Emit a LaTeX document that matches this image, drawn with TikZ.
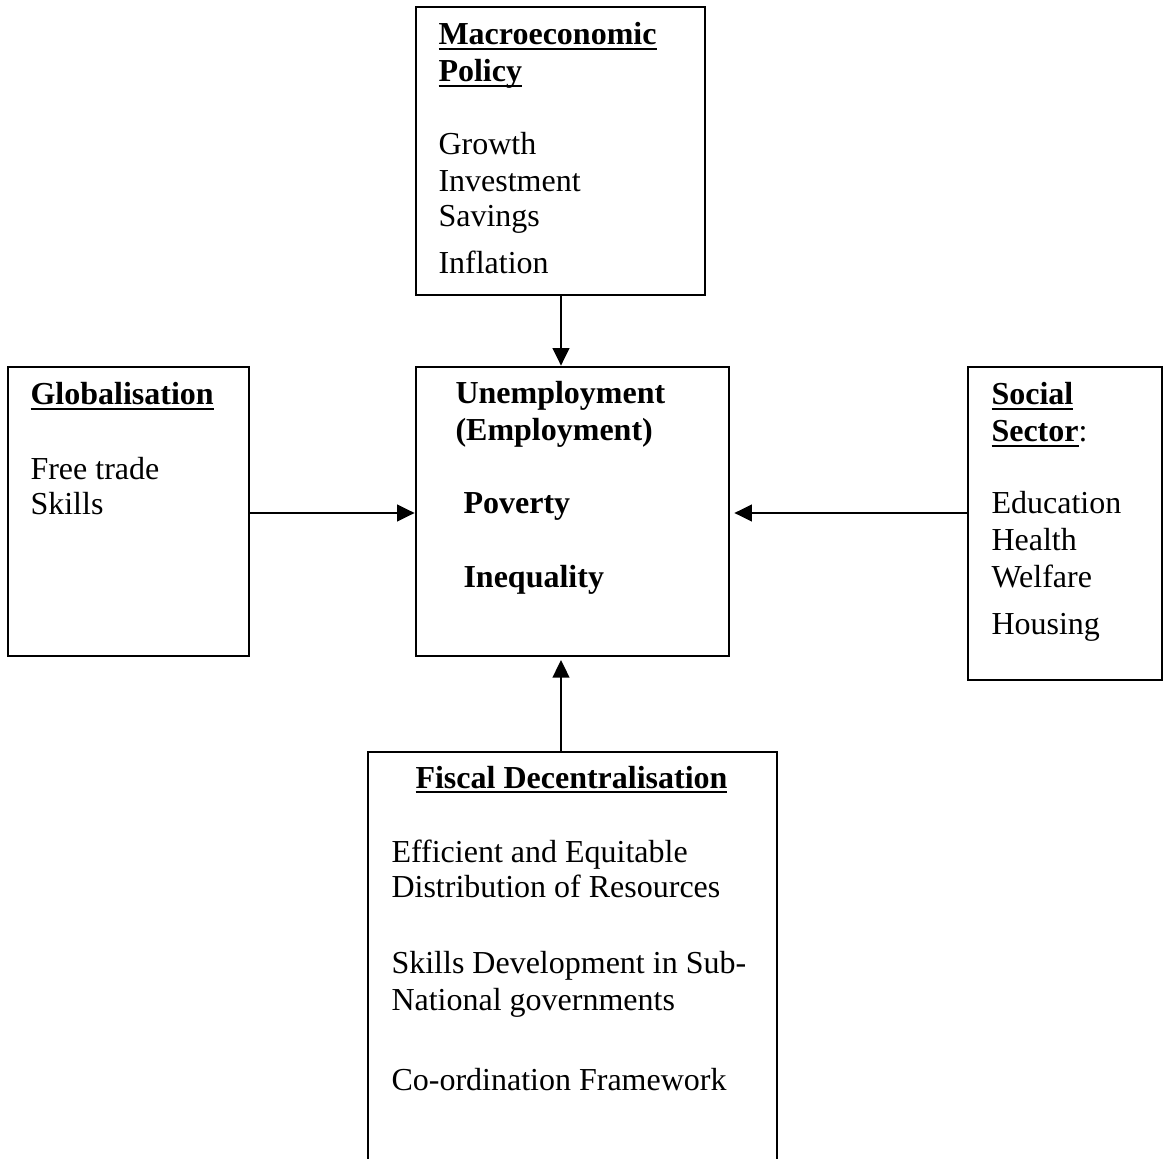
\documentclass[tikz,border=0pt]{standalone}
\usepackage{fontspec}
\setmainfont{Liberation Serif}
\usetikzlibrary{fit,arrows.meta}
\newsavebox\hdrbox
\newcommand\hdr[1]{\sbox\hdrbox{\bfseries #1}\rlap{\rule[-1.9pt]{\wd\hdrbox}{0.8pt}}\usebox\hdrbox}
\begin{document}
\begin{tikzpicture}[x=0.375pt,y=-0.375pt,
  box/.style={draw,line width=1pt,inner sep=0pt},
  txt/.style={anchor=base west,inner sep=0pt,font=\fontsize{12}{14}\selectfont},
  btxt/.style={txt,font=\fontsize{12}{14}\selectfont\bfseries},
  arr/.style={line width=1pt,-{Triangle[length=6.6pt,width=6.2pt]}}]
\useasboundingbox (0,0) rectangle (1163,1159);
\fill[white] (0,0) rectangle (1163,1159);

% boxes
\node[box,fit={(416,7)(705,295)}] (macro) {};
\node[box,fit={(416,367)(729,656)}] (center) {};
\node[box,fit={(8,367)(249,656)}] (glob) {};
\node[box,fit={(968,367)(1162,680)}] (social) {};
\node[box,fit={(368,752)(777,1180)}] (fiscal) {};

% macro text
\node[txt] (m1) at (438,45) {\hdr{Macroeconomic}};
\node[txt] (m2) at (438,82) {\hdr{Policy}};
\node[txt] (m3) at (438,155) {Growth};
\node[txt] (m4) at (438,192) {Investment};
\node[txt] (m5) at (438,227) {Savings};
\node[txt] (m6) at (438,274) {Inflation};

% globalisation text
\node[txt] (g1) at (30,405) {\hdr{Globalisation}};
\node[txt] (g2) at (30,480) {Free trade};
\node[txt] (g3) at (30,515) {Skills};

% center text
\node[btxt] (c1) at (455,404) {Unemployment};
\node[btxt] (c2) at (455,441) {(Employment)};
\node[btxt] (c3) at (463,514) {Poverty};
\node[btxt] (c4) at (463,588) {Inequality};

% social text
\node[txt] (s1) at (991,405) {\hdr{Social}};
\node[txt] (s2) at (991,442) {\hdr{Sector}:};
\node[txt] (s3) at (991,514) {Education};
\node[txt] (s4) at (991,551) {Health};
\node[txt] (s5) at (991,588) {Welfare};
\node[txt] (s6) at (991,635) {Housing};

% fiscal text
\node[txt] (f1) at (415,788) {\hdr{Fiscal Decentralisation}};
\node[txt] (f2) at (391,863) {Efficient and Equitable};
\node[txt] (f3) at (391,898) {Distribution of Resources};
\node[txt] (f4) at (391,973) {Skills Development in Sub-};
\node[txt] (f5) at (391,1010) {National governments};
\node[txt] (f6) at (391,1090) {Co-ordination Framework};

% connectors
\coordinate (ax) at (561,0);
\coordinate (ay) at (0,513);
\draw[arr] (macro.south -| ax) -- (center.north -| ax);
\draw[arr] (fiscal.north -| ax) -- ([yshift=-1pt]center.south -| ax);
\draw[arr] (glob.east |- ay) -- (center.west |- ay);
\draw[arr] (social.west |- ay) -- ([xshift=1.5pt]center.east |- ay);
\end{tikzpicture}
\end{document}
